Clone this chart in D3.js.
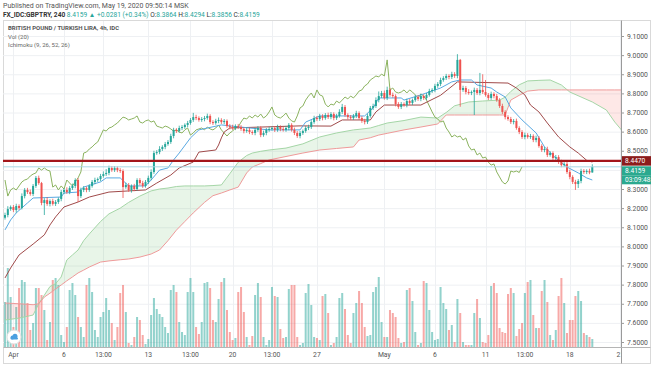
<!DOCTYPE html>
<html lang="en">
<head>
<meta charset="UTF-8">
<title>GBPTRY 4h</title>
<script src="https://d3js.org/d3.v7.min.js"></script>
<style>
  body { margin: 0; background: #fff; }
  svg text { font-family: Roboto, "Noto Sans", sans-serif; }
</style>
</head>
<body>
<svg width="654" height="366"></svg>
<script>
// 4h closes, first bar = Mar 31 12:00, last = May 19 08:00 (MSK)
const firstOpen = 8.150;
const closes = [
  8.164,8.195,8.206,8.190,8.211,8.201,8.263,8.295,8.284,8.274,
  8.316,8.358,8.331,8.227,8.242,8.222,8.237,8.222,8.232,8.248,
  8.284,8.295,8.284,8.305,8.316,8.347,8.263,8.295,8.305,8.295,
  8.316,8.337,8.347,8.352,8.368,8.378,8.384,8.410,8.399,8.410,
  8.399,8.394,8.310,8.321,8.295,8.316,8.300,8.347,8.331,8.316,
  8.337,8.358,8.389,8.488,8.493,8.509,8.520,8.535,8.546,8.577,
  8.609,8.603,8.619,8.624,8.635,8.645,8.661,8.676,8.671,8.661,
  8.666,8.671,8.682,8.650,8.645,8.656,8.661,8.650,8.656,8.629,
  8.624,8.619,8.629,8.624,8.614,8.603,8.609,8.598,8.593,8.609,
  8.619,8.582,8.593,8.609,8.614,8.619,8.609,8.624,8.614,8.609,
  8.619,8.635,8.609,8.593,8.577,8.593,8.603,8.619,8.624,8.650,
  8.671,8.666,8.682,8.671,8.687,8.676,8.692,8.671,8.682,8.703,
  8.729,8.687,8.676,8.671,8.682,8.697,8.671,8.656,8.650,8.682,
  8.724,8.734,8.765,8.786,8.802,8.776,8.818,8.792,8.786,8.744,
  8.729,8.744,8.739,8.760,8.750,8.765,8.781,8.771,8.786,8.776,
  8.792,8.812,8.818,8.839,8.849,8.870,8.880,8.891,8.886,8.901,
  8.891,8.975,8.818,8.828,8.807,8.802,8.807,8.818,8.802,8.818,
  8.807,8.792,8.776,8.797,8.786,8.765,8.734,8.703,8.676,8.666,
  8.650,8.656,8.619,8.598,8.572,8.582,8.572,8.577,8.556,8.567,
  8.525,8.504,8.509,8.478,8.488,8.462,8.467,8.441,8.425,8.431,
  8.389,8.363,8.337,8.326,8.342,8.394,8.389,8.394,8.3864,8.4159
];
// upper / lower shadow length of each candle
const wickUp = [
  .012,.015,.008,.010,.012,.009,.014,.010,.011,.013,
  .010,.010,.012,.006,.010,.015,.009,.012,.010,.008,
  .011,.009,.014,.010,.012,.009,.010,.012,.010,.008,
  .009,.010,.012,.008,.011,.014,.020,.012,.009,.010,
  .008,.010,.009,.012,.010,.008,.011,.009,.010,.012,
  .010,.012,.014,.012,.010,.015,.009,.011,.010,.012,
  .011,.009,.012,.010,.008,.011,.010,.022,.012,.009,
  .010,.011,.012,.009,.010,.011,.013,.009,.010,.008,
  .010,.012,.009,.011,.010,.008,.012,.010,.009,.011,
  .010,.009,.012,.010,.011,.008,.010,.012,.009,.010,
  .011,.010,.009,.012,.010,.011,.008,.010,.012,.010,
  .012,.010,.011,.009,.010,.012,.010,.009,.011,.014,
  .016,.010,.009,.011,.010,.012,.009,.010,.011,.012,
  .010,.012,.014,.024,.011,.013,.017,.010,.012,.009,
  .010,.011,.009,.012,.010,.008,.011,.010,.012,.009,
  .010,.012,.009,.011,.010,.012,.010,.011,.009,.012,
  .010,.030,.005,.012,.010,.015,.008,.012,.010,.089,
  .082,.063,.010,.012,.009,.011,.010,.012,.009,.010,
  .011,.010,.012,.009,.010,.013,.010,.011,.009,.012,
  .010,.009,.011,.012,.010,.009,.011,.010,.012,.009,
  .010,.012,.009,.011,.010,.012,.010,.009,.012,.0135
];
const wickDn = [
  .010,.012,.009,.011,.014,.010,.008,.012,.010,.009,
  .011,.010,.009,.012,.063,.010,.013,.009,.011,.010,
  .012,.010,.009,.011,.010,.012,.031,.010,.011,.012,
  .010,.009,.012,.010,.011,.009,.010,.012,.009,.010,
  .011,.010,.057,.009,.010,.014,.011,.009,.012,.010,
  .009,.011,.012,.010,.009,.011,.010,.012,.009,.010,
  .012,.010,.009,.011,.010,.012,.009,.010,.011,.009,
  .010,.012,.009,.011,.010,.009,.012,.010,.011,.009,
  .012,.010,.011,.009,.010,.012,.009,.011,.010,.012,
  .010,.011,.009,.012,.010,.009,.011,.010,.012,.009,
  .010,.012,.009,.011,.010,.012,.010,.009,.011,.010,
  .009,.011,.010,.012,.009,.010,.011,.012,.010,.009,
  .011,.010,.012,.009,.010,.011,.009,.010,.012,.010,
  .009,.011,.010,.012,.010,.009,.011,.010,.009,.012,
  .010,.011,.009,.012,.010,.011,.009,.010,.012,.010,
  .011,.009,.010,.012,.010,.011,.009,.010,.012,.011,
  .010,.012,.088,.010,.012,.009,.011,.120,.010,.012,
  .010,.009,.011,.010,.012,.009,.010,.011,.012,.009,
  .010,.012,.009,.011,.010,.012,.009,.010,.011,.012,
  .009,.010,.012,.011,.009,.010,.012,.010,.011,.009,
  .010,.012,.011,.031,.021,.012,.010,.011,.009,.0008
];
const volumes = [
  45,79,50,20,40,59,67,65,44,17,
  24,59,59,52,37,7,25,67,69,62,
  12,5,20,57,64,52,30,20,10,62,
  69,55,17,10,30,35,49,37,24,7,
  20,54,62,35,4,2,10,30,27,12,
  3,8,32,49,38,33,30,20,14,57,
  62,55,25,15,12,55,69,55,20,13,
  25,64,65,59,27,25,48,65,69,37,
  15,7,9,55,60,35,10,2,11,52,
  64,50,10,2,7,60,51,50,18,9,
  10,58,62,62,10,2,4,54,63,42,
  10,9,7,51,53,34,2,4,10,49,
  54,38,12,4,34,44,56,44,20,11,
  12,55,60,70,25,10,10,37,34,30,
  9,4,5,57,59,46,15,2,4,66,
  64,37,15,7,8,60,44,38,17,22,
  5,48,34,5,2,2,2,34,48,29,
  5,4,12,61,64,54,19,15,14,53,
  59,54,11,18,24,54,65,67,32,19,
  19,56,67,45,12,7,17,51,69,44,
  14,27,27,51,56,46,14,12,10,8
];

// Ichimoku (bar index -> price)
const tenkanIdx = [0,2,4,8,10,20,21,26,28,34,36,41,44,50,52,55,58,60,62,66,69,77,87,94,105,107,112,128,131,133,141,142,148,155,159,162,166,168,173,175,178,180,184,189,192,196,200,204,207,209];
const tenkanVal = [8.086,8.138,8.175,8.227,8.253,8.258,8.279,8.284,8.310,8.337,8.358,8.358,8.316,8.316,8.347,8.399,8.410,8.452,8.488,8.567,8.609,8.635,8.619,8.609,8.609,8.650,8.682,8.682,8.724,8.776,8.776,8.765,8.792,8.828,8.860,8.870,8.870,8.844,8.828,8.807,8.781,8.724,8.661,8.593,8.520,8.462,8.415,8.384,8.358,8.347];
const kijunIdx = [0,2,5,10,14,16,18,21,26,30,37,50,54,59,62,67,69,75,76,77,78,80,105,116,120,130,132,135,148,155,161,179,182,185,187,190,193,197,201,204,207,209];
const kijunVal = [7.835,7.887,7.955,8.012,8.060,8.112,8.154,8.206,8.232,8.258,8.284,8.295,8.331,8.373,8.410,8.441,8.493,8.504,8.530,8.567,8.598,8.619,8.630,8.629,8.661,8.661,8.703,8.739,8.739,8.790,8.860,8.854,8.828,8.792,8.739,8.703,8.645,8.572,8.520,8.488,8.450,8.441];
const cloudIdx = [0,5,10,12,14,16,18,20,22,24,26,28,30,34,37,41,44,48,52,55,58,61,64,67,71,74,77,80,83,86,88,91,94,100,106,112,118,124,126,130,133,136,142,148,154,157,160,165,170,176,178,180,183,186,190,194,198,201,205,209,214,217,220];
const spanA = [7.615,7.625,7.641,7.700,7.745,7.790,7.805,7.840,7.929,7.955,7.981,8.030,8.065,8.130,8.170,8.200,8.230,8.263,8.290,8.300,8.305,8.313,8.316,8.316,8.316,8.318,8.321,8.380,8.440,8.475,8.488,8.497,8.504,8.514,8.536,8.572,8.593,8.609,8.612,8.619,8.632,8.645,8.658,8.676,8.671,8.700,8.735,8.755,8.760,8.765,8.780,8.810,8.845,8.865,8.868,8.870,8.844,8.807,8.781,8.755,8.713,8.650,8.598];
const spanB = [7.704,7.700,7.695,7.700,7.735,7.755,7.777,7.798,7.820,7.840,7.861,7.876,7.892,7.918,7.924,7.930,7.934,7.944,7.960,7.981,8.030,8.085,8.130,8.175,8.230,8.265,8.279,8.295,8.310,8.384,8.415,8.433,8.452,8.470,8.488,8.504,8.512,8.520,8.556,8.568,8.582,8.591,8.609,8.624,8.640,8.687,8.687,8.687,8.687,8.687,8.687,8.765,8.790,8.812,8.818,8.818,8.818,8.818,8.818,8.818,8.818,8.818,8.818];

// 8.4000 sits under the price tags, as in the original
const priceTicks = [7.5,7.6,7.7,7.8,7.9,8.0,8.1,8.2,8.3,8.5,8.6,8.7,8.8,8.9,9.0,9.1];
const timeTickIdx = [3,21,35,51,66,81,95,111,135,153,171,185,201,219];
const timeTickText = ["Apr","6","13:00","13","13:00","20","13:00","27","May","6","11","13:00","18","21"];
const levelLine = 8.4470;
const lastPrice = 8.4159;

const svg = d3.select("svg");
const L = 3, R = 621, T = 21, B = 347;

const x = d3.scaleLinear().domain([0, 209]).range([5, 592.3]);
const y = d3.scaleLinear().domain([7.5, 9.1]).range([342, 36]);
const yVol = d3.scaleLinear().domain([0, 82]).range([B, 265]);

const upCol = "#26a69a", dnCol = "#ef5350";
const opens = closes.map((c, i) => i === 0 ? firstOpen : closes[i - 1]);

const defs = svg.append("defs");
defs.append("clipPath").attr("id", "plot")
  .append("rect").attr("x", L).attr("y", T).attr("width", R - L).attr("height", B - T);

// frame
svg.append("rect").attr("x", 3.5).attr("y", 20.5).attr("width", 647).attr("height", 343)
  .attr("fill", "none").attr("stroke", "#d9d9d9");

const plot = svg.append("g").attr("clip-path", "url(#plot)");

// grid
plot.selectAll(".hg").data(priceTicks.concat([8.4])).enter().append("line")
  .attr("x1", L).attr("x2", R).attr("y1", d => y(d) + .5).attr("y2", d => y(d) + .5)
  .attr("stroke", "#eef0f3");
plot.selectAll(".vg").data(timeTickIdx).enter().append("line")
  .attr("x1", d => Math.round(x(d)) + .5).attr("x2", d => Math.round(x(d)) + .5)
  .attr("y1", T).attr("y2", B).attr("stroke", "#eef0f3");

// volume
plot.selectAll(".vol").data(volumes).enter().append("rect")
  .attr("x", (d, i) => x(i) - 1).attr("width", 2)
  .attr("y", d => yVol(d)).attr("height", d => B - yVol(d))
  .attr("fill", (d, i) => closes[i] >= opens[i] ? upCol : dnCol)
  .attr("opacity", 0.5);

// cloud
const cloud = cloudIdx.map((d, k) => ({ i: d, a: spanA[k], b: spanB[k] }));
defs.append("clipPath").attr("id", "aboveB").append("path")
  .attr("d", d3.area().x(d => x(d.i)).y0(T - 5).y1(d => y(d.b))(cloud));
defs.append("clipPath").attr("id", "aboveA").append("path")
  .attr("d", d3.area().x(d => x(d.i)).y0(T - 5).y1(d => y(d.a))(cloud));
plot.append("path").attr("clip-path", "url(#aboveB)")
  .attr("d", d3.area().x(d => x(d.i)).y0(B + 5).y1(d => y(d.a))(cloud))
  .attr("fill", "rgba(76,175,80,0.13)");
plot.append("path").attr("clip-path", "url(#aboveA)")
  .attr("d", d3.area().x(d => x(d.i)).y0(B + 5).y1(d => y(d.b))(cloud))
  .attr("fill", "rgba(244,67,54,0.12)");

const lineOf = (xs, vs) => d3.line().x((d, k) => x(xs[k])).y(d => y(d))(vs);
plot.append("path").attr("d", lineOf(cloudIdx, spanA)).attr("fill", "none").attr("stroke", "#a5d6a7");
plot.append("path").attr("d", lineOf(cloudIdx, spanB)).attr("fill", "none").attr("stroke", "#ef9a9a");

// lagging span: close shifted back 25 bars
const chikou = closes.map((c, i) => [i - 25, c]).filter(d => d[0] >= 0);
plot.append("path")
  .attr("d", d3.line().x(d => x(d[0])).y(d => y(d[1]))(chikou))
  .attr("fill", "none").attr("stroke", "#8bb35f");
plot.append("path").attr("d", lineOf(kijunIdx, kijunVal)).attr("fill", "none").attr("stroke", "#a04a4a");
plot.append("path").attr("d", lineOf(tenkanIdx, tenkanVal)).attr("fill", "none").attr("stroke", "#5aa9e2");

// candles
const cg = plot.append("g");
closes.forEach((c, i) => {
  const o = opens[i], col = c >= o ? upCol : dnCol;
  const hi = Math.max(o, c) + wickUp[i], lo = Math.min(o, c) - wickDn[i];
  cg.append("line").attr("x1", x(i)).attr("x2", x(i)).attr("y1", y(hi)).attr("y2", y(lo))
    .attr("stroke", col).attr("stroke-width", 0.8);
  const top = y(Math.max(o, c)), h = Math.max(1, Math.abs(y(o) - y(c)));
  cg.append("rect").attr("x", x(i) - 1).attr("y", top).attr("width", 2).attr("height", h).attr("fill", col);
});

// horizontal level + last price line
plot.append("line").attr("x1", L).attr("x2", R).attr("y1", y(levelLine)).attr("y2", y(levelLine))
  .attr("stroke", "#a3161a").attr("stroke-width", 2.4);
plot.append("line").attr("x1", L).attr("x2", R).attr("y1", y(lastPrice)).attr("y2", y(lastPrice))
  .attr("stroke", "#a9d9e4").attr("stroke-width", 1);

// axes lines
svg.append("line").attr("x1", R + .5).attr("x2", R + .5).attr("y1", 20.5).attr("y2", 363.5).attr("stroke", "#9a9a9a");
svg.append("line").attr("x1", 3.5).attr("x2", 650.5).attr("y1", B + .5).attr("y2", B + .5).attr("stroke", "#b5b5b5");

// price axis
const fmt = d3.format(".4f");
const ya = svg.append("g");
priceTicks.forEach(v => {
  ya.append("line").attr("x1", R).attr("x2", R + 3).attr("y1", y(v) + .5).attr("y2", y(v) + .5).attr("stroke", "#9a9a9a");
  ya.append("text").attr("x", R + 6).attr("y", y(v) + 2.5).attr("font-size", 6.8).attr("fill", "#555").text(fmt(v));
});

// price tags
const tag = (yc, h, fill, txt) => {
  svg.append("rect").attr("x", R + 1).attr("y", yc - h / 2).attr("width", 29).attr("height", h).attr("fill", fill);
  svg.append("text").attr("x", R + 4).attr("y", yc + 2.4).attr("font-size", 6.6).attr("fill", "#fff").text(txt);
};
tag(y(levelLine), 9.5, "#8c1c1c", fmt(levelLine));
tag(170.8, 9, "#2ba98f", fmt(lastPrice));
tag(179.8, 9, "#2ba98f", "03:09:48");

// time axis
defs.append("clipPath").attr("id", "timeclip")
  .append("rect").attr("x", L).attr("y", B).attr("width", R - L).attr("height", 20);
svg.append("g").attr("clip-path", "url(#timeclip)")
  .selectAll("text").data(timeTickIdx).enter().append("text")
  .attr("x", d => x(d)).attr("y", 357).attr("text-anchor", "middle")
  .attr("font-size", 6.8).attr("fill", "#555").text((d, k) => timeTickText[k]);

// header
svg.append("text").attr("x", 3).attr("y", 8).attr("font-size", 7).attr("fill", "#555")
  .text("Published on TradingView.com, May 19, 2020 09:50:14 MSK");
const h2 = svg.append("text").attr("x", 3).attr("y", 17).attr("font-size", 6.6).attr("fill", "#333");
h2.append("tspan").attr("font-weight", "bold").text("FX_IDC:GBPTRY, 240 ");
h2.append("tspan").attr("fill", "#26a69a").text("8.4159 \u25B2 +0.0281 (+0.34%) ");
[["O:", "8.3864"], ["H:", "8.4294"], ["L:", "8.3856"], ["C:", "8.4159"]].forEach(p => {
  h2.append("tspan").text(p[0]);
  h2.append("tspan").attr("fill", "#26a69a").text(p[1] + " ");
});

// legend
svg.append("text").attr("x", 8).attr("y", 30).attr("font-size", 6).attr("fill", "#555").attr("font-weight", "bold")
  .text("BRITISH POUND / TURKISH LIRA, 4h, IDC");
svg.append("text").attr("x", 8).attr("y", 39).attr("font-size", 6).attr("fill", "#666").text("Vol (20)");
svg.append("text").attr("x", 8).attr("y", 47).attr("font-size", 6).attr("fill", "#666").text("Ichimoku (9, 26, 52, 26)");

// logo badge
const lg = svg.append("g").attr("transform", "translate(14,337)");
lg.append("circle").attr("r", 7).attr("fill", "#fff").attr("stroke", "#e0e0e0");
lg.append("circle").attr("cx", -1.5).attr("cy", 0.5).attr("r", 2).attr("fill", "#4a9fe0");
lg.append("circle").attr("cx", 1).attr("cy", -0.8).attr("r", 2.5).attr("fill", "#4a9fe0");
lg.append("rect").attr("x", -3.5).attr("y", 0.5).attr("width", 7.5).attr("height", 2).attr("rx", 1).attr("fill", "#4a9fe0");
</script>
</body>
</html>
